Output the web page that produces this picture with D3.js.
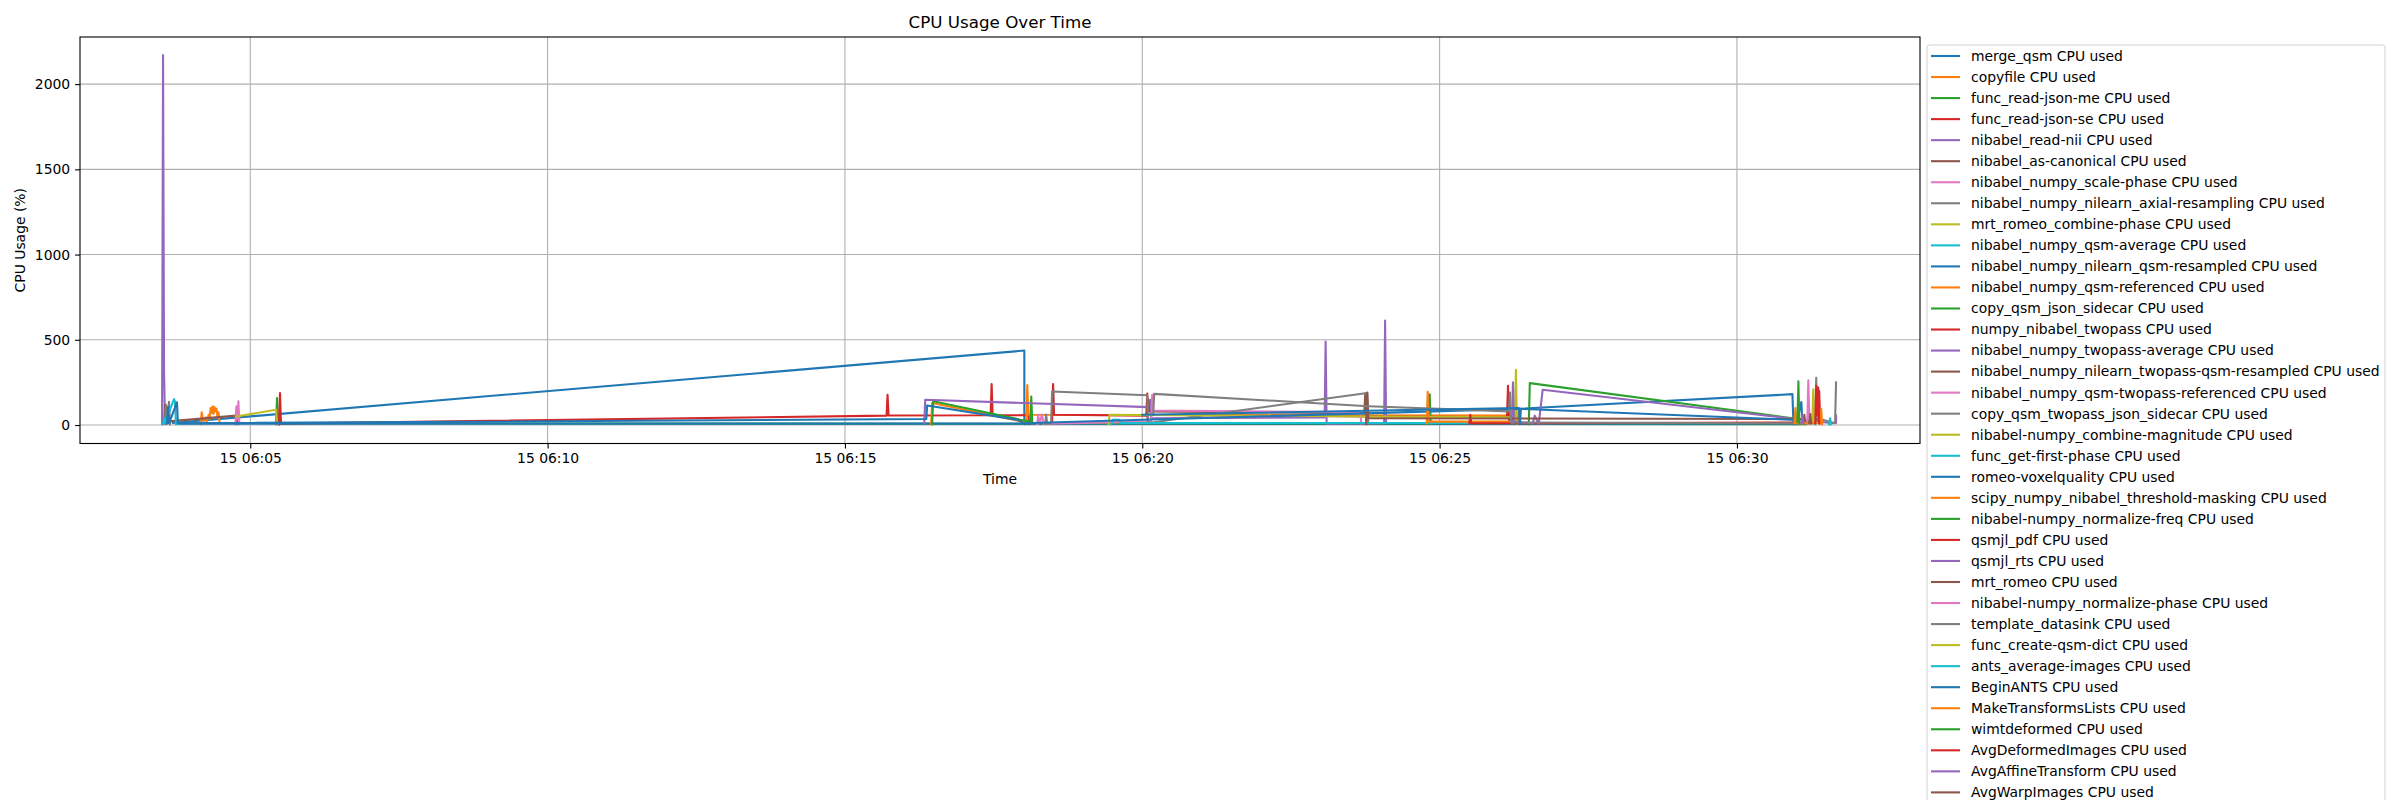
<!DOCTYPE html>
<meta charset="utf-8">
<script src="https://d3js.org/d3.v7.js"></script>
<style>
  body { margin: 0; background: #fff; }
  text { font-family: "DejaVu Sans", sans-serif; }
</style>
<div id="chart"></div>

<script>

// each series: [time of day, cpu %]
var mergeQsm = [["06:03:42", 12], ["06:18:01", 437], ["06:18:01", 20], ["06:18:02", 5]];
var copyfile = [["06:04:10", 5], ["06:04:11", 75], ["06:04:12", 40], ["06:04:13", 25], ["06:04:15", 45], ["06:04:16", 20],
  ["06:04:18", 60], ["06:04:19", 35], ["06:04:20", 100], ["06:04:21", 70], ["06:04:22", 110], ["06:04:23", 65],
  ["06:04:24", 105], ["06:04:25", 80], ["06:04:26", 95], ["06:04:27", 40], ["06:04:28", 75], ["06:04:29", 10]];
var readJsonMe = [["06:05:26", 5], ["06:05:27", 158], ["06:05:28", 10], ["06:31:10", 5]];
var readJsonSe = [["06:05:29", 3], ["06:05:30", 188], ["06:05:31", 8], ["06:15:42", 55], ["06:15:43", 178], ["06:15:44", 56],
  ["06:17:27", 57], ["06:17:28", 240], ["06:17:29", 57], ["06:18:05", 58], ["06:18:06", 5]];
var readNii = [["06:03:31", 5], ["06:03:32", 2170], ["06:03:33", 310], ["06:03:34", 15], ["06:03:35", 5]];
var asCanonical = [["06:03:33", 10], ["06:03:34", 118], ["06:03:35", 20], ["06:04:46", 55], ["06:04:47", 5]];
var scalePhase = [["06:04:45", 5], ["06:04:46", 110], ["06:04:47", 35], ["06:04:48", 139], ["06:04:49", 8]];
var axialResampling = [["06:03:34", 8], ["06:03:35", 119], ["06:03:36", 10], ["06:03:38", 136], ["06:03:39", 5]];
var combinePhase = [["06:04:46", 50], ["06:05:26", 90], ["06:05:27", 5]];
var qsmAverage = [["06:03:32", 5], ["06:03:33", 41], ["06:03:34", 12], ["06:03:43", 152], ["06:03:44", 140], ["06:03:45", 5]];
var qsmResampled = [["06:03:36", 10], ["06:03:37", 105], ["06:03:38", 10], ["06:03:46", 133], ["06:03:47", 8], ["06:30:58", 8]];
var qsmReferenced = [["06:16:27", 5], ["06:16:28", 129], ["06:17:58", 21], ["06:18:03", 20], ["06:18:04", 235], ["06:18:05", 60],
  ["06:26:16", 55], ["06:26:17", 80], ["06:26:18", 10]];
var copyQsmSidecar = [["06:16:28", 5], ["06:16:29", 140], ["06:17:58", 30], ["06:18:07", 20], ["06:18:08", 167], ["06:18:09", 12],
  ["06:24:49", 10], ["06:24:50", 180], ["06:24:51", 8]];
var twopass = [["06:18:29", 10], ["06:18:30", 240], ["06:18:31", 60], ["06:20:04", 55], ["06:20:05", 185], ["06:20:06", 60],
  ["06:26:08", 45], ["06:26:09", 230], ["06:26:10", 30]];
var twopassAverage = [["06:16:20", 10], ["06:16:21", 148], ["06:20:07", 105], ["06:20:08", 148], ["06:20:09", 40],
  ["06:23:04", 45], ["06:23:05", 490], ["06:23:06", 8], ["06:24:04", 10], ["06:24:05", 613], ["06:24:06", 12]];
var twopassResampled = [["06:20:05", 10], ["06:20:06", 150], ["06:20:07", 80], ["06:23:44", 70], ["06:23:45", 185], ["06:23:46", 20]];
var twopassReferenced = [["06:18:14", 5], ["06:18:15", 60], ["06:18:16", 10], ["06:18:19", 62], ["06:18:20", 8],
  ["06:20:09", 20], ["06:20:10", 178], ["06:20:11", 85], ["06:23:40", 75], ["06:23:41", 10]];
var copyTwopassSidecar = [["06:18:22", 5], ["06:18:23", 62], ["06:18:24", 8], ["06:18:28", 8], ["06:18:29", 197], ["06:20:05", 175],
  ["06:20:06", 12], ["06:23:47", 188], ["06:23:48", 10]];
var combineMagnitude = [["06:19:26", 5], ["06:19:27", 60], ["06:26:16", 45], ["06:26:17", 324], ["06:26:18", 10]];
var firstPhase = [["06:19:29", 5], ["06:19:30", 30], ["06:19:37", 30], ["06:19:38", 12], ["06:31:17", 12], ["06:31:18", 40], ["06:31:19", 5]];
var voxelquality = [["06:03:47", 10], ["06:16:22", 35], ["06:16:23", 115], ["06:17:55", 30], ["06:18:00", 10],
  ["06:26:20", 95], ["06:30:56", 181], ["06:30:57", 5]];
var thresholdMasking = [["06:24:47", 10], ["06:24:48", 195], ["06:24:49", 20], ["06:26:19", 20], ["06:26:20", 80], ["06:26:21", 15]];
var normalizeFreq = [["06:26:30", 5], ["06:26:31", 246], ["06:30:56", 40], ["06:31:00", 10]];
var qsmjlPdf = [["06:25:30", 10], ["06:25:31", 60], ["06:25:32", 10], ["06:31:20", 15], ["06:31:21", 220], ["06:31:22", 30],
  ["06:31:23", 200], ["06:31:24", 10]];
var qsmjlRts = [["06:26:13", 10], ["06:26:14", 250], ["06:26:15", 20], ["06:26:34", 10], ["06:26:36", 55], ["06:26:40", 5],
  ["06:26:44", 207], ["06:31:34", 12], ["06:31:40", 12], ["06:31:40", 55]];
var mrtRomeo = [["06:23:46", 5], ["06:23:47", 190], ["06:23:48", 40], ["06:31:07", 35], ["06:31:08", 60], ["06:31:09", 10]];
var normalizePhase = [["06:31:11", 10], ["06:31:12", 263], ["06:31:13", 50], ["06:31:15", 10]];
var templateDatasink = [["06:20:11", 60], ["06:20:12", 183], ["06:23:48", 110], ["06:26:10", 80], ["06:26:11", 190], ["06:26:12", 15],
  ["06:31:19", 10], ["06:31:20", 277], ["06:31:21", 40], ["06:31:39", 10], ["06:31:40", 250]];
var createQsmDict = [["06:31:16", 10], ["06:31:17", 210], ["06:31:18", 20]];
var antsAverage = [["06:31:33", 5], ["06:31:34", 40], ["06:31:35", 5]];
var beginAnts = [["06:20:00", 60], ["06:26:20", 100], ["06:26:21", 5], ["06:26:22", 95], ["06:30:59", 30], ["06:31:00", 5],
  ["06:31:05", 135], ["06:31:06", 10]];
var makeTransforms = [["06:30:58", 10], ["06:30:59", 100], ["06:31:00", 10], ["06:31:24", 10], ["06:31:25", 95], ["06:31:26", 5]];
var wimtdeformed = [["06:31:01", 20], ["06:31:02", 256], ["06:31:03", 10]];
var avgDeformed = [["06:31:19", 10], ["06:31:20", 230], ["06:31:21", 60], ["06:31:22", 220], ["06:31:23", 10]];
var avgAffine = [["06:31:05", 10], ["06:31:06", 60], ["06:31:07", 10]];
var avgWarp = [["06:31:13", 10], ["06:31:14", 65], ["06:31:15", 10]];

var seriesNames = ["merge_qsm", "copyfile", "func_read-json-me", "func_read-json-se", "nibabel_read-nii",
  "nibabel_as-canonical", "nibabel_numpy_scale-phase", "nibabel_numpy_nilearn_axial-resampling",
  "mrt_romeo_combine-phase", "nibabel_numpy_qsm-average", "nibabel_numpy_nilearn_qsm-resampled",
  "nibabel_numpy_qsm-referenced", "copy_qsm_json_sidecar", "numpy_nibabel_twopass",
  "nibabel_numpy_twopass-average", "nibabel_numpy_nilearn_twopass-qsm-resampled",
  "nibabel_numpy_qsm-twopass-referenced", "copy_qsm_twopass_json_sidecar", "nibabel-numpy_combine-magnitude",
  "func_get-first-phase", "romeo-voxelquality", "scipy_numpy_nibabel_threshold-masking",
  "nibabel-numpy_normalize-freq", "qsmjl_pdf", "qsmjl_rts", "mrt_romeo", "nibabel-numpy_normalize-phase",
  "template_datasink", "func_create-qsm-dict", "ants_average-images", "BeginANTS", "MakeTransformsLists",
  "wimtdeformed", "AvgDeformedImages", "AvgAffineTransform", "AvgWarpImages"];

var seriesValues = [mergeQsm, copyfile, readJsonMe, readJsonSe, readNii, asCanonical, scalePhase, axialResampling,
  combinePhase, qsmAverage, qsmResampled, qsmReferenced, copyQsmSidecar, twopass, twopassAverage, twopassResampled,
  twopassReferenced, copyTwopassSidecar, combineMagnitude, firstPhase, voxelquality, thresholdMasking, normalizeFreq,
  qsmjlPdf, qsmjlRts, mrtRomeo, normalizePhase, templateDatasink, createQsmDict, antsAverage, beginAnts,
  makeTransforms, wimtdeformed, avgDeformed, avgAffine, avgWarp];

var xTicks = ["06:05:00", "06:10:00", "06:15:00", "06:20:00", "06:25:00", "06:30:00"];
var yTicks = [0, 500, 1000, 1500, 2000];

var day = "2024-03-15 ";
var parse = d3.timeParse("%Y-%m-%d %H:%M:%S.%L");
function t(s) { return parse(day + s + (s.length == 8 ? ".000" : "")); }

var W = 2400, H = 800;
var box = {left: 80, right: 1920, top: 37, bottom: 443.5};
var fs = 13.9;

var svg = d3.select("#chart").append("svg")
  .attr("width", W).attr("height", H);

svg.append("rect").attr("width", W).attr("height", H).attr("fill", "#fff");

var x = d3.scaleTime()
  .domain([t("06:02:08.200"), t("06:33:04.700")])
  .range([box.left, box.right]);
var y = d3.scaleLinear()
  .domain([-108.4, 2276.4])
  .range([box.bottom, box.top]);

// grid
svg.append("g").selectAll("line").data(xTicks).enter().append("line")
  .attr("x1", function(d) { return x(t(d)); }).attr("x2", function(d) { return x(t(d)); })
  .attr("y1", box.top).attr("y2", box.bottom)
  .attr("stroke", "#b0b0b0").attr("stroke-width", 1.1);
svg.append("g").selectAll("line").data(yTicks).enter().append("line")
  .attr("x1", box.left).attr("x2", box.right)
  .attr("y1", function(d) { return y(d); }).attr("y2", function(d) { return y(d); })
  .attr("stroke", "#b0b0b0").attr("stroke-width", 1.1);

// lines
svg.append("clipPath").attr("id", "clip").append("rect")
  .attr("x", box.left).attr("y", box.top).attr("width", box.right - box.left).attr("height", box.bottom - box.top);

var color = d3.scaleOrdinal(d3.schemeCategory10);
var line = d3.line()
  .x(function(d) { return x(t(d[0])); })
  .y(function(d) { return y(d[1]); });

svg.append("g").attr("clip-path", "url(#clip)")
  .selectAll("path").data(seriesValues).enter().append("path")
  .attr("d", line)
  .attr("fill", "none")
  .attr("stroke", function(d, i) { return color(i % 10); })
  .attr("stroke-width", 2.1)
  .attr("stroke-linejoin", "round")
  .attr("stroke-linecap", "square");

// axes
var xAxis = d3.axisBottom(x)
  .tickValues(xTicks.map(t))
  .tickFormat(d3.timeFormat("%d %H:%M"))
  .tickSize(4.9).tickPadding(4.9);
var yAxis = d3.axisLeft(y)
  .tickValues(yTicks)
  .tickFormat(d3.format("d"))
  .tickSize(4.9).tickPadding(4.9);

var gx = svg.append("g").attr("transform", "translate(0," + box.bottom + ")").call(xAxis);
var gy = svg.append("g").attr("transform", "translate(" + box.left + ",0)").call(yAxis);
[gx, gy].forEach(function(g) {
  g.select(".domain").remove();
  g.selectAll(".tick line").attr("stroke", "#000").attr("stroke-width", 1.1);
  g.selectAll(".tick text").attr("font-size", fs).attr("font-family", "DejaVu Sans").attr("fill", "#000");
});

svg.append("rect")
  .attr("x", box.left).attr("y", box.top).attr("width", box.right - box.left).attr("height", box.bottom - box.top)
  .attr("fill", "none").attr("stroke", "#000").attr("stroke-width", 1.1);

svg.append("text").attr("x", (box.left + box.right) / 2).attr("y", 28)
  .attr("text-anchor", "middle").attr("font-size", 16.7).text("CPU Usage Over Time");
svg.append("text").attr("x", (box.left + box.right) / 2).attr("y", 484)
  .attr("text-anchor", "middle").attr("font-size", fs).text("Time");
svg.append("text")
  .attr("transform", "translate(25," + (box.top + box.bottom) / 2 + ") rotate(-90)")
  .attr("text-anchor", "middle").attr("font-size", fs).text("CPU Usage (%)");

// legend
var lg = svg.append("g").attr("transform", "translate(1927,45)");
lg.append("rect")
  .attr("x", 0).attr("y", 0).attr("width", 458).attr("height", 800)
  .attr("rx", 3).attr("fill", "#fff").attr("stroke", "#d6d6d6").attr("stroke-width", 1.1);
var item = lg.selectAll("g.item").data(seriesNames).enter().append("g")
  .attr("class", "item")
  .attr("transform", function(d, i) { return "translate(0," + (11 + 21.04 * i) + ")"; });
item.append("line")
  .attr("x1", 4).attr("x2", 33).attr("y1", 0).attr("y2", 0)
  .attr("stroke", function(d, i) { return color(i % 10); })
  .attr("stroke-width", 2.1);
item.append("text")
  .attr("x", 44).attr("y", 0).attr("dy", "0.35em")
  .attr("font-size", fs)
  .text(function(d) { return d + " CPU used"; });

</script>
